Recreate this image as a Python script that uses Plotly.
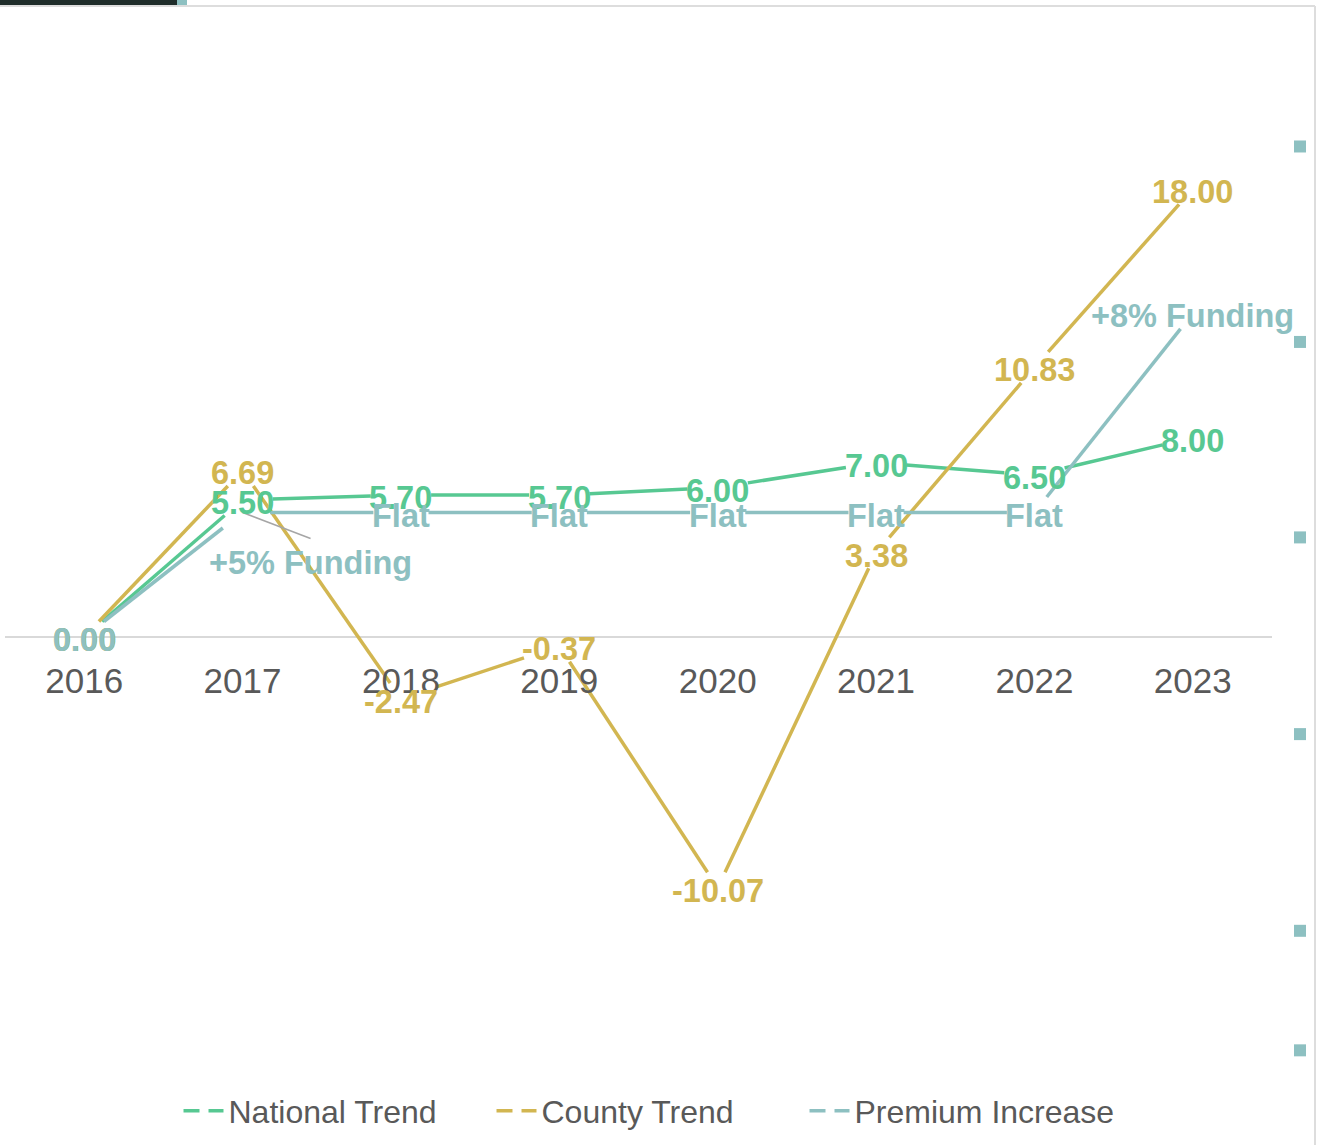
import plotly.graph_objects as go

# ---------------- data ----------------
years = ["2016", "2017", "2018", "2019", "2020", "2021", "2022", "2023"]
national = [0.00, 5.50, 5.70, 5.70, 6.00, 7.00, 6.50, 8.00]
county = [0.00, 6.69, -2.47, -0.37, -10.07, 3.38, 10.83, 18.00]
premium = [0.00, 5.00, 5.00, 5.00, 5.00, 5.00, 5.00, 13.00]
national_labels = [f"{v:.2f}" for v in national]
county_labels = [f"{v:.2f}" for v in county]
premium_labels = ["0.00", "+5% Funding", "Flat", "Flat", "Flat", "Flat", "Flat", "+8% Funding"]
premium_offset_label_index = 1          # "+5% Funding" is moved away with a leader line
side_tick_values = [19.7, 11.85, 4.0, -3.9, -11.8, -16.6]
series_names = ["National Trend", "County Trend", "Premium Increase"]

# ---------------- style / geometry ----------------
GREEN, GOLD, TEAL = "#57C892", "#D2B651", "#8DC0C1"
GRAY_TXT = "#595959"
FONT = "Liberation Sans, Arial, sans-serif"
W, H = 1319, 1145
ML, MR, MT, MB = 5, 47, 30, 75
PW, PH = W - ML - MR, H - MT - MB
X_RANGE = [-0.5, 7.5]
Y_RANGE = [-17.39, 24.378]
LABEL_SIZE = 32.5
LABEL_YSHIFT = -3

def to_px(x, y):
    px = ML + (x - X_RANGE[0]) / (X_RANGE[1] - X_RANGE[0]) * PW
    py = MT + (Y_RANGE[1] - y) / (Y_RANGE[1] - Y_RANGE[0]) * PH
    return px, py

def from_px(px, py):
    x = X_RANGE[0] + (px - ML) / PW * (X_RANGE[1] - X_RANGE[0])
    y = Y_RANGE[1] - (py - MT) / PH * (Y_RANGE[1] - Y_RANGE[0])
    return x, y

CHAR_W = {".": 0.278, "-": 0.333, "+": 0.584, "%": 0.889, " ": 0.278, "F": 0.611,
          "l": 0.278, "a": 0.556, "t": 0.333, "u": 0.611, "n": 0.611, "d": 0.611,
          "i": 0.278, "g": 0.611}

def text_w(s, size=31):
    return sum(CHAR_W.get(c, 0.556) for c in s) * size

def clipped_segments(values, labels):
    """Line segments between points, trimmed where they pass under each label box."""
    hh = 15.5
    xs, ys = [], []
    for i in range(len(values) - 1):
        p0 = to_px(i, values[i])
        p1 = to_px(i + 1, values[i + 1])
        dx, dy = p1[0] - p0[0], p1[1] - p0[1]
        def t_exit(lbl):
            hw = text_w(lbl) / 2
            tx = hw / abs(dx) if dx else 1e9
            ty = hh / abs(dy) if dy else 1e9
            return min(tx, ty)
        t0, t1 = t_exit(labels[i]), t_exit(labels[i + 1])
        if t0 + t1 >= 1:
            continue
        a = from_px(p0[0] + t0 * dx, p0[1] + t0 * dy)
        b = from_px(p1[0] - t1 * dx, p1[1] - t1 * dy)
        xs += [a[0], b[0], None]
        ys += [a[1], b[1], None]
    return xs, ys

x_idx = list(range(len(years)))
premium_clip_labels = [("Flat" if i == premium_offset_label_index else l) for i, l in enumerate(premium_labels)]

fig = go.Figure()

for vals, clip_lbls, color in [(national, national_labels, GREEN),
                               (county, county_labels, GOLD),
                               (premium, premium_clip_labels, TEAL)]:
    sx, sy = clipped_segments(vals, clip_lbls)
    fig.add_trace(go.Scatter(x=sx, y=sy, mode="lines", line=dict(color=color, width=3.5),
                             showlegend=False, hoverinfo="skip"))

# data labels (centred on their points)
for vals, lbls, color in [(national, national_labels, GREEN),
                          (county, county_labels, GOLD),
                          (premium, premium_labels, TEAL)]:
    for i, (v, l) in enumerate(zip(vals, lbls)):
        if lbls is premium_labels and i == premium_offset_label_index:
            continue
        fig.add_annotation(x=i, y=v, text=l, showarrow=False, xanchor="center", yanchor="middle",
                           yshift=LABEL_YSHIFT,
                           font=dict(family=FONT, size=LABEL_SIZE, color=color, weight="bold"))

# moved label with leader line
i5 = premium_offset_label_index
p5 = to_px(i5, premium[i5])
lead_end = from_px(p5[0] + 68, p5[1] + 26)
fig.add_shape(type="line", xref="x", yref="y", x0=i5, y0=premium[i5], x1=lead_end[0], y1=lead_end[1],
              line=dict(color="#A6A6A6", width=1.5))
fig.add_annotation(x=i5, y=premium[i5], text=premium_labels[i5], showarrow=False,
                   xanchor="center", yanchor="middle", xshift=68, yshift=-50,
                   font=dict(family=FONT, size=LABEL_SIZE, color=TEAL, weight="bold"))

# legend entries (dashed samples)
for name, color in zip(series_names, [GREEN, GOLD, TEAL]):
    fig.add_trace(go.Scatter(x=[None], y=[None], mode="lines", name=name,
                             line=dict(color=color, width=3.5, dash="16px,9px")))

def pxp(px, py):
    return (px - ML) / PW, (MT + PH - py) / PH

shapes = []
side_x, _ = pxp(1300, 0)
for v in side_tick_values:
    shapes.append(dict(type="rect", xref="paper", yref="y", xsizemode="pixel", ysizemode="pixel",
                       xanchor=side_x, yanchor=v, x0=-6, x1=6, y0=-6, y1=6,
                       fillcolor=TEAL, line=dict(width=0)))
x0, y0 = pxp(0, 0); x1, y1 = pxp(177, 5)
shapes.append(dict(type="rect", xref="paper", yref="paper", x0=x0, y0=y0, x1=x1, y1=y1,
                   fillcolor="#1F2D2A", line=dict(width=0)))
x0, y0 = pxp(177, 0); x1, y1 = pxp(187, 5)
shapes.append(dict(type="rect", xref="paper", yref="paper", x0=x0, y0=y0, x1=x1, y1=y1,
                   fillcolor=TEAL, line=dict(width=0)))
x0, y0 = pxp(0, 6); x1, y1 = pxp(1315, 6)
shapes.append(dict(type="line", xref="paper", yref="paper", x0=x0, y0=y0, x1=x1, y1=y1,
                   line=dict(color="#DDDDDD", width=2), layer="below"))
x0, y0 = pxp(1315, 6); x1, y1 = pxp(1315, 1145)
shapes.append(dict(type="line", xref="paper", yref="paper", x0=x0, y0=y0, x1=x1, y1=y1,
                   line=dict(color="#DDDDDD", width=2)))
for s in shapes:
    fig.add_shape(**s)

zero_pos = 1 - (Y_RANGE[1] - 0) / (Y_RANGE[1] - Y_RANGE[0])

fig.update_layout(
    width=W, height=H,
    margin=dict(l=ML, r=MR, t=MT, b=MB),
    paper_bgcolor="white", plot_bgcolor="white",
    xaxis=dict(range=X_RANGE, tickvals=x_idx, ticktext=years, showgrid=False, zeroline=False,
               showline=False, anchor="free", position=zero_pos, ticks="",
               ticklabelstandoff=20,
               tickfont=dict(family=FONT, size=35, color=GRAY_TXT), fixedrange=True),
    yaxis=dict(range=Y_RANGE, showgrid=False, zeroline=True, zerolinecolor="#D9D9D9",
               zerolinewidth=2, showticklabels=False, fixedrange=True),
    legend=dict(orientation="h", x=0.5075, xanchor="center", y=(MT + PH - 1111) / PH,
                yanchor="middle", font=dict(family=FONT, size=32, color=GRAY_TXT),
                itemwidth=40, entrywidth=258, bgcolor="rgba(0,0,0,0)"),
    showlegend=True,
)

fig.write_html("out.html", config={"displayModeBar": False},
               post_script="document.body.style.margin='0';")
